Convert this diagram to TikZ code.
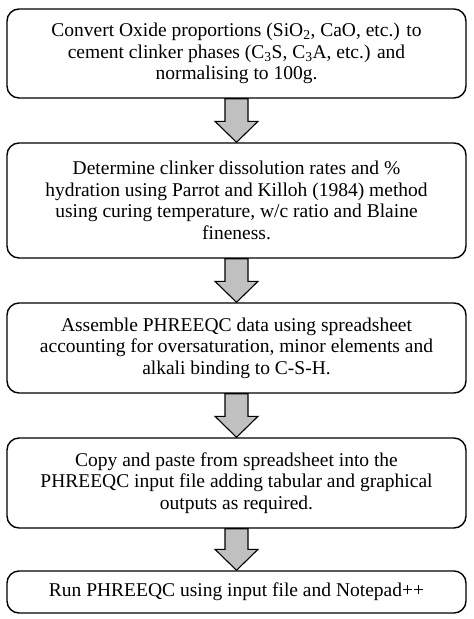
\documentclass[tikz,border=0pt]{standalone}
\usepackage{fontspec}
\setmainfont{Liberation Serif}
\usetikzlibrary{calc}
\definecolor{arrowgray}{RGB}{192,192,192}
\newcommand{\blockarrow}[2]{%
  \draw[barrow] ($(#1.south)+(-11.5,0)$) -- ($(#2.north)+(-11.5,-21)$) -- ($(#2.north)+(-21.5,-21)$) -- (#2.north)
    -- ($(#2.north)+(21.5,-21)$) -- ($(#2.north)+(11.5,-21)$) -- ($(#1.south)+(11.5,0)$) -- cycle;}
\begin{document}
\begin{tikzpicture}[x=1pt,y=-1pt,
  box/.style={draw, line width=1.4pt, rounded corners=12pt, minimum width=459pt, align=center,
    inner sep=0pt, font=\fontsize{19.5}{21.5}\selectfont},
  barrow/.style={draw, line width=1.1pt, fill=arrowgray, line join=miter}]
\useasboundingbox (0,0) rectangle (474,619);
\node[box, minimum height=89pt] (b1) at (236.5,53.5) {Convert Oxide proportions (SiO\textsubscript{2}, CaO, etc.) to\\cement clinker phases (C\textsubscript{3}S, C\textsubscript{3}A, etc.) and\\normalising to 100g.};
\node[box, minimum height=115pt] (b2) at (236.5,200.5) {Determine clinker dissolution rates and \%\\hydration using Parrot and Killoh (1984) method\\using curing temperature, w/c ratio and Blaine\\fineness.};
\node[box, minimum height=90pt] (b3) at (236.5,348) {Assemble PHREEQC data using spreadsheet\\accounting for oversaturation, minor elements and\\alkali binding to C-S-H.};
\node[box, minimum height=90pt] (b4) at (236.5,483) {Copy and paste from spreadsheet into the\\PHREEQC input file adding tabular and graphical\\outputs as required.};
\node[box, minimum height=42pt] (b5) at (236.5,592) {Run PHREEQC using input file and Notepad++};
\blockarrow{b1}{b2}
\blockarrow{b2}{b3}
\blockarrow{b3}{b4}
\blockarrow{b4}{b5}
\end{tikzpicture}
\end{document}
